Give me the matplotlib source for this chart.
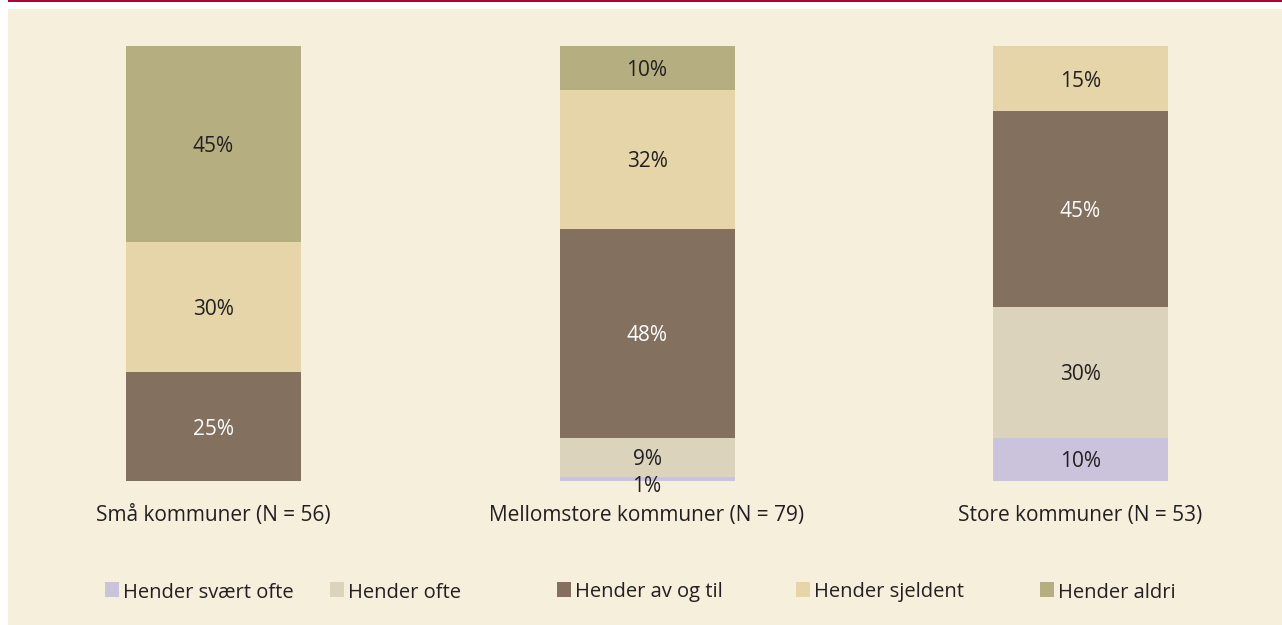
import matplotlib
matplotlib.use("Agg")
import matplotlib.pyplot as plt
from matplotlib.patches import Rectangle

categories = ["Små kommuner (N = 56)", "Mellomstore kommuner (N = 79)", "Store kommuner (N = 53)"]
series = ["Hender svært ofte", "Hender ofte", "Hender av og til", "Hender sjeldent", "Hender aldri"]
svaert_ofte = [0, 1, 10]
ofte = [0, 9, 30]
av_og_til = [25, 48, 45]
sjeldent = [30, 32, 15]
aldri = [45, 10, 0]
values = [svaert_ofte, ofte, av_og_til, sjeldent, aldri]
colors = ["#cbc3dc", "#dbd3bc", "#84705e", "#e5d5a8", "#b5ae80"]
text_colors = ["#231f20", "#231f20", "#ffffff", "#231f20", "#231f20"]

plt.rcParams['font.family'] = ['Open Sans', 'DejaVu Sans']

W, H = 1282, 625
fig = plt.figure(figsize=(W / 100, H / 100), dpi=100, facecolor="white")

# background panel and top rule
fig.patches.append(Rectangle((8 / W, 0), 1 - 8 / W, (H - 9) / H, transform=fig.transFigure,
                             facecolor="#f6efdc", edgecolor="none", zorder=-2))
fig.patches.append(Rectangle((8 / W, (H - 2) / H), 1 - 8 / W, 2 / H, transform=fig.transFigure,
                             facecolor="#b0003a", edgecolor="none", zorder=-2))

ax = fig.add_axes([0, (H - 481) / H, 1, (481 - 46) / H])
ax.set_zorder(2)
ax.set_facecolor("none")
spacing = 433.5
ax.set_xlim(-213.5 / spacing, (W - 213.5) / spacing)
ax.set_ylim(0, 100)
ax.axis("off")

x = list(range(len(categories)))
bw = 175 / spacing
bottoms = [0] * len(categories)
for s, (name, vals, col, tc) in enumerate(zip(series, values, colors, text_colors)):
    ax.bar(x, vals, width=bw, bottom=bottoms, color=col, label=name, edgecolor="none")
    for i, v in enumerate(vals):
        if v > 0:
            if v < 3:
                ax.text(x[i], -2.5, f"{v}%", ha="center", va="baseline", fontsize=15,
                        color="#231f20")
            else:
                ax.text(x[i], bottoms[i] + v / 2, f"{v}%", ha="center", va="center_baseline",
                        fontsize=15, color=tc)
    bottoms = [b + v for b, v in zip(bottoms, vals)]

for i, c in enumerate(categories):
    ax.text(x[i], -9.2, c, ha="center", va="baseline", fontsize=15, color="#231f20")

# manual legend (pixel positions of each entry)
leg_x = [105, 330, 557, 796, 1040]
leg_y = 590
for lx, name, col in zip(leg_x, series, colors):
    fig.patches.append(Rectangle((lx / W, (H - 597) / H), 14 / W, 15 / H, transform=fig.transFigure,
                                 facecolor=col, edgecolor="none", zorder=1))
    fig.text((lx + 18) / W, (H - leg_y) / H, name, ha="left", va="center_baseline", fontsize=14.5,
             color="#231f20")

fig.savefig("out.png", dpi=100, facecolor=fig.get_facecolor())
